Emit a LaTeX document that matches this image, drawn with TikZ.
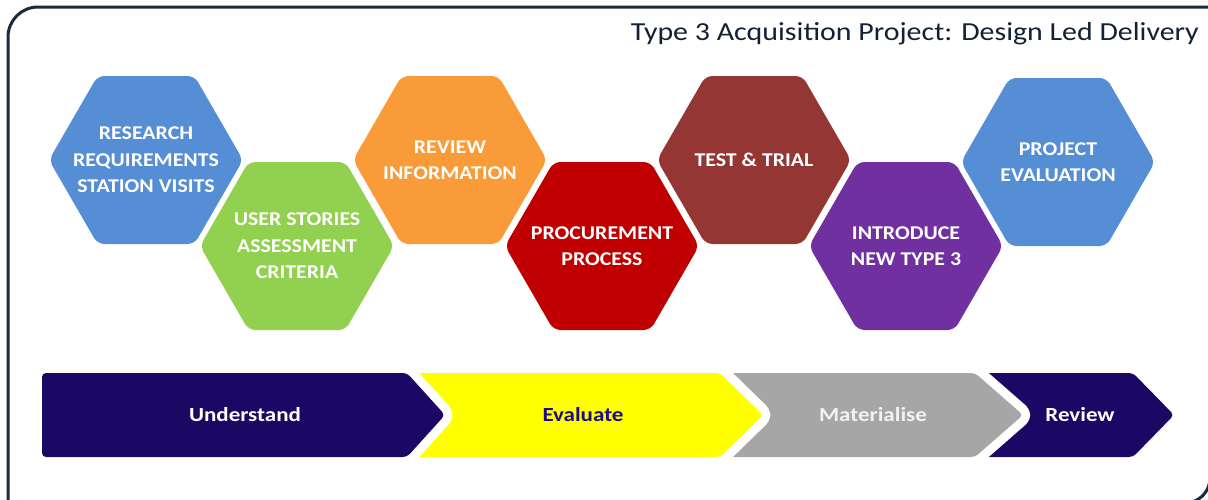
\documentclass[tikz,border=0pt]{standalone}
\usepackage{fontspec}
\setmainfont{Carlito}
\newfontfamily\widefont[FakeStretch=1.15]{Carlito}
\newfontfamily\hexfont[FakeStretch=1.12]{Carlito}
\usetikzlibrary{shapes.geometric}

\definecolor{framecol}{RGB}{28,42,62}
\definecolor{titlecol}{RGB}{20,32,52}
\definecolor{hexblue}{RGB}{85,142,213}
\definecolor{hexgreen}{RGB}{146,208,80}
\definecolor{hexorange}{RGB}{249,155,56}
\definecolor{hexred}{RGB}{192,0,0}
\definecolor{hexbrown}{RGB}{148,55,52}
\definecolor{hexpurple}{RGB}{112,48,160}
\definecolor{phasenavy}{RGB}{26,8,100}
\definecolor{phaseyellow}{RGB}{255,255,0}
\definecolor{phasegrey}{RGB}{166,166,166}
\definecolor{evaltext}{RGB}{30,12,130}

\begin{document}
\begin{tikzpicture}[x=1pt,y=-1pt,
  hexa/.style={regular polygon, regular polygon sides=6, minimum size=194pt,
    inner sep=0pt, rounded corners=7pt, fill=#1, draw=none},
  hextext/.style={text=white, font=\hexfont\bfseries\fontsize{19.5}{26.5}\selectfont,
    align=center, inner sep=0pt},
  phase/.style={fill=#1, rounded corners=4pt,
    preaction={draw=white, line width=18pt, line join=round}},
  phasetext/.style={font=\widefont\bfseries\fontsize{20}{24}\selectfont, inner sep=0pt},
  frameline/.style={draw=framecol, line width=3pt}]

\useasboundingbox (0,0) rectangle (1208,499);
\begin{scope}
\clip (0,0) rectangle (1208,499);

% outer frame: top and left sides with the rounded top-left corner,
% and the rounded bottom-right corner
\draw[frameline, rounded corners=30pt] (1215,7) -- (8,7) -- (8,520);
\draw[frameline, rounded corners=25pt] (1210,300) -- (1210,503) -- (1100,503);

% title
\node[anchor=base east, text=titlecol, inner sep=0pt,
      font=\widefont\fontsize{26}{30}\selectfont] (title) at (1199,40)
  {Type 3 Acquisition Project: Design Led Delivery};

% hexagon steps
\node[hexa=hexblue]   (h1) at (146,160) {};
\node[hexa=hexgreen]  (h2) at (297,246) {};
\node[hexa=hexorange] (h3) at (450,160) {};
\node[hexa=hexred]    (h4) at (602,246) {};
\node[hexa=hexbrown]  (h5) at (754,160) {};
\node[hexa=hexpurple] (h6) at (906,246) {};
\node[hexa=hexblue]   (h7) at (1058,162) {};

\node[hextext] (t1) at (h1) {RESEARCH\\REQUIREMENTS\\STATION VISITS};
\node[hextext] (t2) at (h2) {USER STORIES\\ASSESSMENT\\CRITERIA};
\node[hextext] (t3) at (h3) {REVIEW\\INFORMATION};
\node[hextext] (t4) at (h4) {PROCUREMENT\\PROCESS};
\node[hextext] (t5) at (h5) {TEST \& TRIAL};
\node[hextext] (t6) at (h6) {INTRODUCE\\NEW TYPE 3};
\node[hextext] (t7) at (h7) {PROJECT\\EVALUATION};

% phase chevrons, drawn right to left so each white rim cuts the next one
\path[phase=phasenavy]   (960,373) -- (1133,373) -- (1174,415) -- (1133,457) -- (960,457) -- cycle;
\path[phase=phasegrey]   (700,373) -- (975,373) -- (1023,415) -- (975,457) -- (700,457) -- cycle;
\path[phase=phaseyellow] (400,373) -- (720,373) -- (763,415) -- (720,457) -- (400,457) -- cycle;
\path[phase=phasenavy]   (42,373) -- (407,373) -- (445,415) -- (407,457) -- (42,457) -- cycle;

\node[phasetext, text=white]    (p1) at (245,415) {Understand};
\node[phasetext, text=evaltext] (p2) at (583,415) {Evaluate};
\node[phasetext, text=white!95!black] (p3) at (873,415) {Materialise};
\node[phasetext, text=white]    (p4) at (1080,415) {Review};
\end{scope}
\end{tikzpicture}
\end{document}
